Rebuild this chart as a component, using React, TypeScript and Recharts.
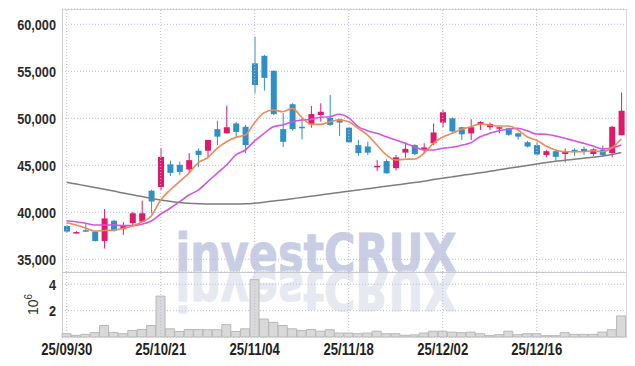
import React from "react";
import {
  ComposedChart,
  Bar,
  Line,
  XAxis,
  YAxis,
  CartesianGrid,
  ReferenceLine,
} from "recharts";

const dates = [
  "25/09/30", "25/10/01", "25/10/02", "25/10/10", "25/10/13", "25/10/14", "25/10/15", "25/10/16", "25/10/17", "25/10/20",
  "25/10/21", "25/10/22", "25/10/23", "25/10/24", "25/10/27", "25/10/28", "25/10/29", "25/10/30", "25/10/31", "25/11/03",
  "25/11/04", "25/11/05", "25/11/06", "25/11/07", "25/11/10", "25/11/11", "25/11/12", "25/11/13", "25/11/14", "25/11/17",
  "25/11/18", "25/11/19", "25/11/20", "25/11/21", "25/11/24", "25/11/25", "25/11/26", "25/11/27", "25/11/28", "25/12/01",
  "25/12/02", "25/12/03", "25/12/04", "25/12/05", "25/12/08", "25/12/09", "25/12/10", "25/12/11", "25/12/12", "25/12/15",
  "25/12/16", "25/12/17", "25/12/18", "25/12/19", "25/12/22", "25/12/23", "25/12/24", "25/12/26", "25/12/29", "25/12/30",
];

const opens = [
  38550, 37800, 38100, 37950, 36950, 39100, 38200, 38850, 39000, 42300,
  42700, 45100, 45050, 44550, 46550, 46550, 48850, 48400, 49450, 49100,
  55850, 56650, 55050, 48850, 51500, 49100, 49350, 50350, 50050, 49900,
  49000, 47150, 47000, 44800, 45450, 44700, 46350, 47150, 46650, 47350,
  49550, 50000, 49050, 48400, 49400, 49050, 48900, 48950, 48400, 47450,
  47150, 46100, 46500, 46200, 46650, 46750, 46200, 46650, 46300, 48200,
];
const highs = [
  38650, 38000, 38800, 38000, 40350, 39200, 38950, 40050, 41250, 42400,
  46850, 45500, 45400, 46300, 46800, 47700, 49750, 51350, 49600, 49300,
  58700, 56750, 55100, 50550, 51600, 50000, 51300, 51600, 52500, 49950,
  49100, 47700, 47500, 45550, 45650, 46100, 47450, 47250, 47350, 49450,
  50900, 50100, 49100, 49900, 49700, 49550, 49100, 49000, 48500, 47600,
  47500, 46650, 46650, 46800, 46800, 47000, 46800, 47100, 49200, 52750,
];
const lows = [
  37850, 37750, 37900, 36900, 36150, 37950, 37600, 38650, 39000, 39900,
  42350, 43850, 43950, 44150, 44800, 45750, 47150, 48400, 48050, 46300,
  52650, 52950, 50350, 46950, 48700, 47750, 49000, 49650, 49200, 48100,
  47400, 46000, 46100, 44400, 44100, 44450, 45800, 46100, 46200, 47150,
  49050, 48500, 47700, 47700, 48750, 48750, 48400, 48150, 47750, 46900,
  46000, 45850, 45500, 45300, 46000, 46100, 46000, 45900, 45850, 48200,
];
const closes = [
  37950, 37900, 37950, 36950, 39350, 38050, 38650, 39900, 39900, 41150,
  45900, 44200, 44300, 45550, 46100, 47700, 48050, 49050, 48550, 47150,
  53550, 54300, 50450, 47500, 48850, 48950, 50450, 50700, 49300, 49550,
  47450, 46300, 46350, 44950, 44150, 45850, 46750, 46200, 46900, 48500,
  50650, 48600, 48300, 49050, 49600, 49400, 49050, 48250, 48050, 47000,
  46150, 46500, 45900, 46450, 46400, 46500, 46700, 46100, 49100, 50800,
];

// volume, in millions of shares
const volumes = [
  0.25, 0.13, 0.2, 0.33, 0.87, 0.35, 0.25, 0.5, 0.57, 0.87,
  3.1, 0.62, 0.42, 0.57, 0.57, 0.55, 0.55, 0.94, 0.42, 0.62,
  4.35, 1.36, 1.11, 0.87, 0.62, 0.5, 0.57, 0.44, 0.55, 0.3,
  0.3, 0.25, 0.3, 0.44, 0.25, 0.25, 0.13, 0.16, 0.3, 0.44,
  0.44, 0.37, 0.33, 0.37, 0.25, 0.1, 0.18, 0.44, 0.18, 0.25,
  0.25, 0.1, 0.1, 0.33, 0.2, 0.2, 0.2, 0.37, 0.55, 1.6,
];

const maShort = [
  38890, 38650, 38330, 38010, 38060, 38120, 38280, 38540, 38970, 39610,
  41310, 42370, 43260, 44150, 45280, 45810, 46810, 47510, 47980, 48220,
  49550, 50600, 50880, 50700, 51060, 50110, 49360, 49360, 49640, 49820,
  49640, 48940, 48220, 47160, 46100, 45560, 45640, 45670, 46280, 47340,
  48010, 48400, 48830, 49110, 49390, 49290, 49180, 49180, 48760, 48040,
  47660, 47050, 46630, 46450, 46450, 46450, 46550, 46450, 46870, 47800,
];
const maMid = [
  39080, 39000, 38830, 38650, 38650, 38650, 38580, 38580, 38720, 39080,
  39820, 40430, 41130, 41840, 42370, 43260, 44150, 45030, 46100, 46630,
  47590, 48400, 49110, 49290, 49640, 49820, 49890, 50110, 50170, 50430,
  50050, 49110, 48680, 48400, 48040, 47690, 47340, 46980, 46630, 46630,
  46810, 46920, 47130, 47410, 48040, 48400, 48680, 48830, 48940, 48680,
  48330, 48300, 48120, 47870, 47620, 47340, 47050, 46750, 46850, 47160,
];
const maLong = [
  43190, 43010, 42830, 42650, 42460, 42260, 42050, 41860, 41680, 41490,
  41310, 41170, 41040, 40960, 40920, 40880, 40880, 40880, 40880, 40900,
  40970, 41080, 41200, 41310, 41440, 41580, 41710, 41840, 41980, 42110,
  42250, 42380, 42510, 42640, 42780, 42910, 43030, 43160, 43310, 43480,
  43630, 43770, 43920, 44050, 44200, 44360, 44520, 44680, 44830, 44980,
  45140, 45290, 45430, 45530, 45650, 45760, 45860, 45990, 46150, 46360,
];

const priceTicks = [35000, 40000, 45000, 50000, 55000, 60000];
const volTicks = [2, 4];
const gridDates = ["25/09/30", "25/10/21", "25/11/04", "25/11/18", "25/12/02", "25/12/16"];

const UP = "#e2186b";
const DOWN = "#2f90c6";
const GRID = "#b9bdd8";
const FONT = "'Liberation Sans', Arial, sans-serif";
const SQUEEZE = 0.82; // the original axis font is a narrow face

const data = dates.map((d, i) => ({
  date: d,
  open: opens[i],
  high: highs[i],
  low: lows[i],
  close: closes[i],
  range: [lows[i], highs[i]],
  vol: volumes[i],
  ma5: maShort[i],
  ma10: maMid[i],
  ma120: maLong[i],
}));

const Candle = (props: any) => {
  const { x, y, width, height, payload } = props;
  const { open, close, high, low } = payload;
  const top = Math.min(y, y + height);
  const h = Math.abs(height);
  const k = high === low ? 0 : h / (high - low);
  const py = (v: number) => top + (high - v) * k;
  const color = close >= open ? UP : DOWN;
  const cx = x + width / 2;
  const bTop = py(Math.max(open, close));
  const bH = Math.max(1.5, Math.abs(py(open) - py(close)));
  return (
    <g>
      <line x1={cx} x2={cx} y1={top} y2={top + h} stroke={color} strokeWidth={1} />
      <rect x={x} y={bTop} width={width} height={bH} fill={color} />
    </g>
  );
};

const YTick = (props: any) => {
  const { x, y, payload, fmt } = props;
  const label = fmt ? fmt(payload.value) : String(payload.value);
  return (
    <text
      x={x}
      y={y}
      dy="0.36em"
      textAnchor="end"
      fontSize={15.5}
      fontWeight="bold"
      fontFamily={FONT}
      fill="#2b2b2b"
      transform={`matrix(${SQUEEZE},0,0,1,${x * (1 - SQUEEZE)},0)`}
    >
      {label}
    </text>
  );
};

const XTick = (props: any) => {
  const { x, y, payload } = props;
  return (
    <text
      x={x}
      y={y}
      dy="0.72em"
      textAnchor="middle"
      fontSize={16}
      fontWeight="bold"
      fontFamily={FONT}
      fill="#222"
      transform={`matrix(${SQUEEZE},0,0,1,${x * (1 - SQUEEZE)},0)`}
    >
      {payload.value}
    </text>
  );
};

const PowLabel = (props: any) => {
  const { viewBox } = props;
  const cx = viewBox.x + 33;
  const cy = viewBox.y + viewBox.height / 2;
  return (
    <text
      x={cx}
      y={cy}
      transform={`rotate(-90, ${cx}, ${cy})`}
      textAnchor="middle"
      dominantBaseline="central"
      fontSize={14}
      fill="#333"
      fontFamily={FONT}
    >
      10<tspan dy={-5} fontSize={10}>6</tspan>
    </text>
  );
};

const markStyle = {
  fontSize: 53,
  fontWeight: 900,
  fontFamily: "'DejaVu Sans', sans-serif",
};

export default function App() {
  return (
    <div style={{ position: "absolute", left: 0, top: 0, width: 635, height: 366, background: "#fff" }}>
      {/* watermark + reflection */}
      <svg width={635} height={366} style={{ position: "absolute", left: 0, top: 0 }}>
        <text
          x={316}
          y={272}
          textAnchor="middle"
          style={markStyle}
          fill="#c9cee4"
          stroke="#c9cee4"
          strokeWidth={1}
          textLength={281}
          lengthAdjust="spacingAndGlyphs"
        >
          investCRUX
        </text>
        <g transform="translate(0, 544) scale(1, -1)">
          <text
            x={316}
            y={272}
            textAnchor="middle"
            style={markStyle}
            fill="#e6e8f2"
            stroke="#e6e8f2"
            strokeWidth={1}
            textLength={281}
            lengthAdjust="spacingAndGlyphs"
          >
            investCRUX
          </text>
        </g>
      </svg>

      {/* plot frame */}
      <div
        style={{
          position: "absolute",
          left: 62,
          top: 9,
          width: 563,
          height: 328,
          borderLeft: "1px solid #cfcfcf",
          borderTop: "1px solid #d8d8d8",
          borderRight: "1px solid #d8d8d8",
        }}
      />
      <div style={{ position: "absolute", left: 62, top: 272, width: 564, borderTop: "1px solid #cccccc" }} />

      {/* price panel */}
      <div style={{ position: "absolute", left: 0, top: 0 }}>
        <ComposedChart width={635} height={272} data={data} margin={{ top: 9, right: 9, bottom: 0, left: 0 }}>
          <CartesianGrid vertical={false} stroke={GRID} strokeDasharray="1 2" />
          {gridDates.map((d) => (
            <ReferenceLine key={d} x={d} stroke={GRID} strokeDasharray="1 2" />
          ))}
          <XAxis dataKey="date" hide />
          <YAxis
            domain={[33650, 61630]}
            ticks={priceTicks}
            width={62}
            axisLine={false}
            tickLine={false}
            tickSize={0}
            tickMargin={6}
            tick={<YTick fmt={(v: number) => Number(v).toLocaleString("en-US")} />}
          />
          <Line dataKey="ma120" stroke="#7d7d7d" strokeWidth={1.5} dot={false} type="monotone" isAnimationActive={false} />
          <Line dataKey="ma10" stroke="#d254e6" strokeWidth={1.6} dot={false} type="monotone" isAnimationActive={false} />
          <Line dataKey="ma5" stroke="#ef8a57" strokeWidth={1.6} dot={false} type="monotone" isAnimationActive={false} />
          <Bar dataKey="range" barSize={6} shape={<Candle />} isAnimationActive={false} />
        </ComposedChart>
      </div>

      {/* volume panel */}
      <div style={{ position: "absolute", left: 0, top: 272 }}>
        <ComposedChart
          width={635}
          height={94}
          data={data}
          margin={{ top: 0, right: 9, bottom: 0, left: 0 }}
          barCategoryGap={0}
        >
          <CartesianGrid vertical={false} stroke={GRID} strokeDasharray="1 2" />
          {gridDates.map((d) => (
            <ReferenceLine key={d} x={d} stroke={GRID} strokeDasharray="1 2" />
          ))}
          <XAxis
            dataKey="date"
            height={29}
            interval={9}
            axisLine={false}
            tickLine={false}
            tickSize={0}
            tickMargin={6}
            tick={<XTick />}
          />
          <YAxis
            domain={[0, 4.93]}
            ticks={volTicks}
            width={62}
            axisLine={false}
            tickLine={false}
            tickSize={0}
            tickMargin={6}
            tick={<YTick />}
            label={<PowLabel />}
          />
          <Bar dataKey="vol" fill="#d9d9d9" stroke="#b8b8b8" strokeWidth={1} isAnimationActive={false} />
        </ComposedChart>
      </div>
    </div>
  );
}
